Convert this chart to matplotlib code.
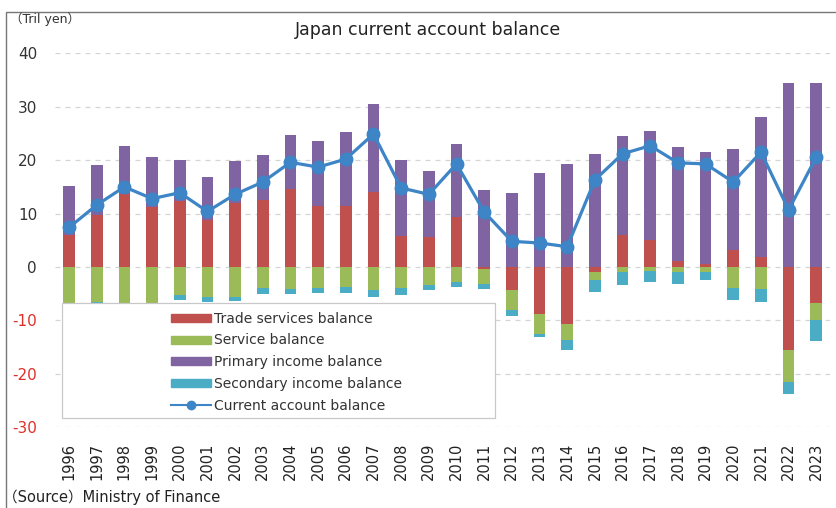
import matplotlib
matplotlib.use("Agg")
import matplotlib.pyplot as plt
from matplotlib.patches import Rectangle
from matplotlib.lines import Line2D
import numpy as np

# %%
# Datos (billones de yenes)
years = [str(y) for y in range(1996, 2024)]
trade = [5.9, 9.7, 13.6, 11.3, 12.3, 8.8, 12.0, 12.5, 14.6, 11.5, 11.4, 14.1, 5.8, 5.6,
         9.4, -0.3, -4.3, -8.8, -10.6, -0.9, 5.9, 5.0, 1.2, 0.5, 3.1, 1.8, -15.6, -6.8]
service = [-6.8, -6.6, -6.7, -6.8, -5.3, -5.6, -5.6, -4.0, -4.2, -3.9, -3.8, -4.3, -4.0, -3.4,
           -2.8, -2.8, -3.8, -3.7, -3.0, -1.6, -1.0, -0.7, -1.0, -0.9, -4.0, -4.1, -6.0, -3.2]
primary = [9.2, 9.4, 9.0, 9.2, 7.8, 8.1, 7.9, 8.4, 10.1, 12.0, 13.9, 16.5, 14.3, 12.4,
           13.7, 14.4, 13.9, 17.6, 19.3, 21.2, 18.6, 20.5, 21.3, 21.1, 18.9, 26.2, 34.4, 34.4]
secondary = [-0.9, -0.9, -0.9, -0.9, -0.9, -1.0, -0.7, -1.0, -0.9, -0.9, -1.1, -1.4, -1.3, -1.0,
             -0.9, -1.0, -1.0, -0.6, -1.9, -2.2, -2.3, -2.1, -2.1, -1.5, -2.2, -2.5, -2.2, -3.9]
current = [7.4, 11.6, 15.0, 12.8, 13.9, 10.4, 13.6, 15.9, 19.6, 18.7, 20.2, 24.9, 14.8, 13.6,
           19.3, 10.3, 4.8, 4.5, 3.8, 16.3, 21.2, 22.7, 19.5, 19.3, 15.9, 21.5, 10.7, 20.6]
yticks = [-30, -20, -10, 0, 10, 20, 30, 40]

labels = ["Trade services balance", "Service balance", "Primary income balance",
          "Secondary income balance", "Current account balance"]
colores = ["#c0504d", "#9bbb59", "#8064a2", "#4bacc6", "#3d85c6"]

# %%
# Apilado (positivos hacia arriba, negativos hacia abajo)
x = np.arange(len(years))
trade = np.array(trade)
service = np.array(service)
primary = np.array(primary)
secondary = np.array(secondary)
trade_pos = np.clip(trade, 0, None)
trade_neg = np.clip(trade, None, 0)

fig = plt.figure(figsize=(8.36, 5.08), dpi=100)
ax = fig.add_axes([0.066, 0.159, 0.927, 0.736])

w = 0.42  #Ancho de barra
ax.bar(x, trade_pos, w, color=colores[0], zorder=2)
ax.bar(x, trade_neg, w, color=colores[0], zorder=2)
ax.bar(x, primary, w, bottom=trade_pos, color=colores[2], zorder=2)
ax.bar(x, service, w, bottom=trade_neg, color=colores[1], zorder=2)
ax.bar(x, secondary, w, bottom=trade_neg + service, color=colores[3], zorder=2)
ax.plot(x, current, color=colores[4], lw=2.3, marker="o", ms=9, zorder=3)

# %%
# Ejes
ax.set_xlim(-0.5, len(years) - 0.5)
ax.set_ylim(-30, 40)
ax.set_yticks(yticks)
ax.set_yticklabels([str(v) for v in yticks])  #Guion simple como en el original
ax.set_xticks(x)
ax.set_xticklabels(years, rotation=90, fontsize=10.5, color="#222222")
ax.tick_params(axis="both", length=0)
ax.tick_params(axis="x", pad=11)
ax.tick_params(axis="y", pad=13, labelsize=11)
for t, v in zip(ax.get_yticklabels(), yticks):
    t.set_color("#e0302a" if v < 0 else "#333333")
for s in ax.spines.values():
    s.set_visible(False)
for v in yticks:
    ax.axhline(v, color="#d4d4d4", lw=0.9, ls=(0, (4, 4)), zorder=1)

# Leyenda con caja blanca
ax.add_patch(Rectangle((0.009, 0.024), 0.559, 0.308, transform=ax.transAxes,
                       facecolor="white", edgecolor="#c8c8c8", lw=0.9, zorder=4))
handles = [Rectangle((0, 0), 1, 1, color=c) for c in colores[:4]]
handles.append(Line2D([], [], color=colores[4], lw=1.5, marker="o", ms=6))
leg = ax.legend(handles, labels, loc="upper left", bbox_to_anchor=(0.137, 0.335),
                frameon=False, fontsize=10, handlelength=2.9, handleheight=0.5,
                handletextpad=0.2, labelspacing=0.56, borderpad=0.2)
leg.set_zorder(5)
for t in leg.get_texts():
    t.set_color("#333333")

# %%
# Textos y marco
fig.text(0.512, 0.94, "Japan current account balance", ha="center", va="center",
         fontsize=12.5, color="#222222")
fig.text(0.012, 0.962, "（Tril yen）", ha="left", va="center", fontsize=9,
         color="#333333", family=["DejaVu Sans", "Noto Sans CJK JP"])
fig.text(0.004, 0.022, "（Source）Ministry of Finance", ha="left", va="center", fontsize=10.5,
         color="#222222", family=["DejaVu Sans", "Noto Sans CJK JP"])
fig.patches.append(Rectangle((0.007, -0.05), 1.05, 1.05 - 12 / 508, transform=fig.transFigure,
                             fill=False, edgecolor="#777777", lw=1.0))

fig.savefig("out.png", dpi=100)
